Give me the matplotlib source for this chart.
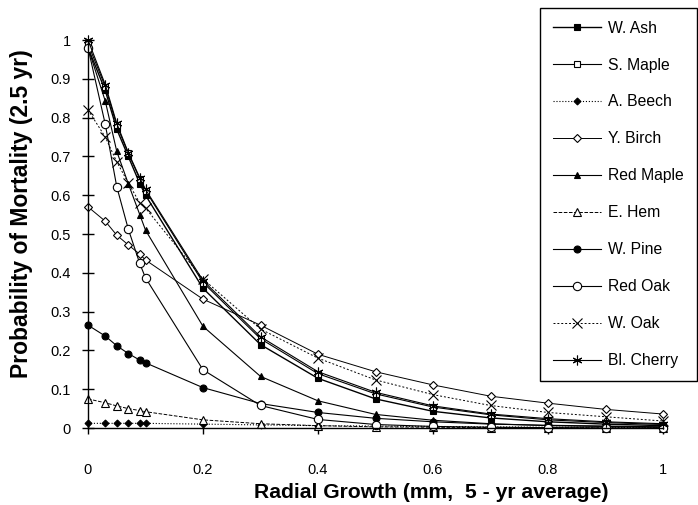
import matplotlib
matplotlib.use('Agg')
import matplotlib.pyplot as plt

plt.rcParams['font.family'] = ['Liberation Sans', 'DejaVu Sans']

##############################  DATA  #########################################

growth = [0, 0.03, 0.05, 0.07, 0.09, 0.1, 0.2, 0.3, 0.4, 0.5, 0.6, 0.7, 0.8, 0.9, 1.0]

wAsh = [0.98, 0.87, 0.77, 0.70, 0.63, 0.60, 0.36, 0.215, 0.128, 0.075, 0.043, 0.026, 0.016, 0.010, 0.006]
sMaple = [0.99, 0.88, 0.78, 0.708, 0.642, 0.612, 0.375, 0.23, 0.14, 0.088, 0.054, 0.034, 0.021, 0.014, 0.009]
aBeech = [0.012, 0.012, 0.012, 0.012, 0.012, 0.012, 0.010, 0.008, 0.006, 0.005, 0.004, 0.003, 0.002, 0.002, 0.001]
yBirch = [0.57, 0.533, 0.497, 0.472, 0.448, 0.433, 0.332, 0.265, 0.19, 0.145, 0.111, 0.082, 0.064, 0.048, 0.036]
redMaple = [0.98, 0.843, 0.713, 0.63, 0.55, 0.51, 0.262, 0.133, 0.07, 0.035, 0.02, 0.011, 0.006, 0.004, 0.002]
eHem = [0.075, 0.065, 0.057, 0.05, 0.045, 0.042, 0.021, 0.011, 0.006, 0.003, 0.002, 0.001, 0.001, 0.0, 0.0]
wPine = [0.265, 0.237, 0.212, 0.192, 0.175, 0.168, 0.104, 0.063, 0.04, 0.025, 0.016, 0.010, 0.007, 0.005, 0.003]
redOak = [0.98, 0.783, 0.622, 0.513, 0.424, 0.387, 0.15, 0.058, 0.022, 0.009, 0.004, 0.002, 0.001, 0.0, 0.0]
wOak = [0.82, 0.75, 0.686, 0.632, 0.58, 0.567, 0.384, 0.255, 0.18, 0.124, 0.086, 0.058, 0.04, 0.029, 0.018]
blCherry = [1.0, 0.885, 0.785, 0.71, 0.645, 0.615, 0.38, 0.235, 0.145, 0.092, 0.057, 0.036, 0.024, 0.016, 0.011]

species = ['W. Ash', 'S. Maple', 'A. Beech', 'Y. Birch', 'Red Maple',
           'E. Hem', 'W. Pine', 'Red Oak', 'W. Oak', 'Bl. Cherry']
series = [wAsh, sMaple, aBeech, yBirch, redMaple, eHem, wPine, redOak, wOak, blCherry]

xTicks = [0, 0.2, 0.4, 0.6, 0.8, 1]
xTickLabels = ['0', '0.2', '0.4', '0.6', '0.8', '1']
yTicks = [0, 0.1, 0.2, 0.3, 0.4, 0.5, 0.6, 0.7, 0.8, 0.9, 1]
yTickLabels = ['0', '0.1', '0.2', '0.3', '0.4', '0.5', '0.6', '0.7', '0.8', '0.9', '1']

############################  STYLES  #########################################

styles = [
    dict(marker='s', mfc='black', ls='-', lw=1.0),
    dict(marker='s', mfc='white', ls='-', lw=0.8),
    dict(marker='D', mfc='black', ls=':', lw=0.8, ms=3.5),
    dict(marker='D', mfc='white', ls='-', lw=0.7, ms=4),
    dict(marker='^', mfc='black', ls='-', lw=0.8),
    dict(marker='^', mfc='white', ls='--', lw=0.7, ms=6),
    dict(marker='o', mfc='black', ls='-', lw=0.8),
    dict(marker='o', mfc='white', ls='-', lw=0.8, ms=6),
    dict(marker='x', mfc='none', ls=(0, (2, 2)), lw=0.7, ms=7),
    dict(marker=(6, 2, 0), mfc='none', ls='-', lw=0.8, ms=7),
]

##############################  PLOT  #########################################

fig = plt.figure(figsize=(6.98, 5.05), dpi=100)
ax = fig.add_axes([88 / 698, 1 - 428 / 505, 575 / 698, 388 / 505])

for name, values, st in zip(species, series, styles):
    st = dict(st)
    ms = st.pop('ms', 5)
    ax.plot(growth, values, color='black', mec='black', ms=ms, mew=0.8,
            label=name, clip_on=False, **st)

ax.set_xlim(0, 1)
ax.set_ylim(0, 1)
ax.spines['top'].set_visible(False)
ax.spines['right'].set_visible(False)
ax.spines['left'].set_linewidth(1.0)
ax.spines['bottom'].set_linewidth(1.0)
ax.set_xticks(xTicks)
ax.set_xticklabels(xTickLabels)
ax.set_yticks(yTicks)
ax.set_yticklabels(yTickLabels)
ax.tick_params(direction='inout', length=9, width=1, labelsize=10.5, colors='black')
ax.tick_params(axis='x', pad=21)
ax.tick_params(axis='y', pad=8)

ax.set_xlabel('Radial Growth (mm,  5 - yr average)', fontsize=15.2, fontweight='bold')
ax.set_ylabel('Probability of Mortality (2.5 yr)', fontsize=16.5, fontweight='bold')
ax.xaxis.set_label_coords((431 - 88) / 575, -(483 - 428) / 388)
ax.yaxis.set_label_coords(-(88 - 33) / 575, (428 - 214) / 388)

leg = fig.legend(loc='upper left', bbox_to_anchor=(540 / 698, 1 - 8 / 505),
                 fontsize=11.3, handlelength=3.1, labelspacing=1.4,
                 handletextpad=0.45, borderpad=0.8, fancybox=False,
                 framealpha=1, edgecolor='black', borderaxespad=0)
leg.get_frame().set_linewidth(1.0)

fig.savefig('out.png', dpi=100)
